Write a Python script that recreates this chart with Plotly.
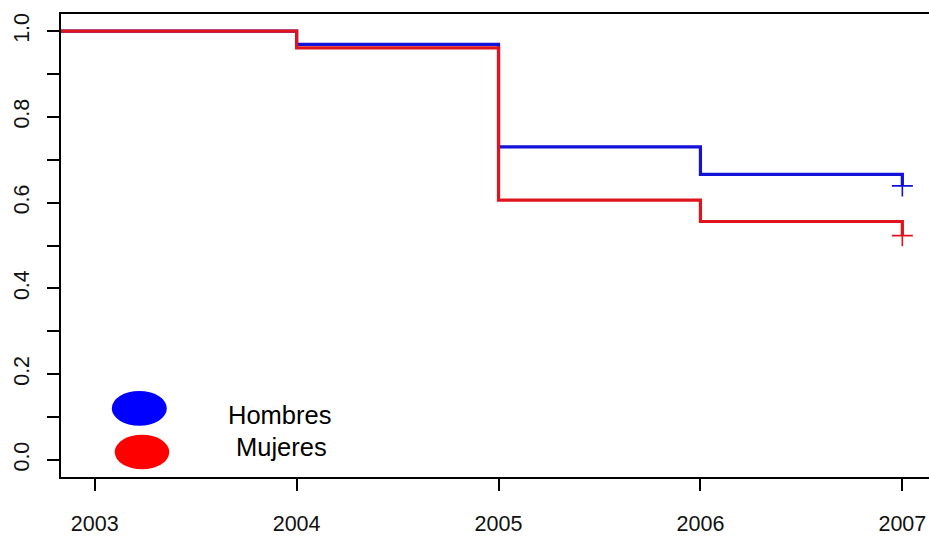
import plotly.graph_objects as go

# Data (Kaplan-Meier style step curves)
times = [2002.833, 2004, 2005, 2006, 2007]
hombres = [1.0, 0.969, 0.730, 0.666, 0.639]
mujeres = [1.0, 0.961, 0.606, 0.556, 0.523]
censor_time = [2007]
hombres_censor = [0.639]
mujeres_censor = [0.523]

x_ticks = [2003, 2004, 2005, 2006, 2007]
y_ticks = [0.0, 0.2, 0.4, 0.6, 0.8, 1.0]
y_ticktext = ["0.0", "0.2", "0.4", "0.6", "0.8", "1.0"]
legend_labels = ["Hombres", "Mujeres"]

BLUE = "#1212d8"
RED = "#e0141c"
FONT = "Liberation Sans, Arial, sans-serif"

W, H = 929, 536
L, R, T, B = 61, 0, 14, 55
PW, PH = W - L - R, H - T - B


def px(x):
    return (x - L) / PW


def py(y):
    return (H - B - y) / PH


fig = go.Figure()
fig.add_trace(go.Scatter(x=times, y=hombres, mode="lines", line=dict(color=BLUE, width=3.2, shape="hv"),
                         showlegend=False, hoverinfo="skip"))
fig.add_trace(go.Scatter(x=times, y=mujeres, mode="lines", line=dict(color=RED, width=3.2, shape="hv"),
                         showlegend=False, hoverinfo="skip"))
fig.add_trace(go.Scatter(x=censor_time, y=hombres_censor, mode="markers",
                         marker=dict(symbol="cross-thin", size=15, line=dict(color=BLUE, width=1.6)),
                         showlegend=False, hoverinfo="skip"))
fig.add_trace(go.Scatter(x=censor_time, y=mujeres_censor, mode="markers",
                         marker=dict(symbol="cross-thin", size=15, line=dict(color=RED, width=1.6)),
                         showlegend=False, hoverinfo="skip"))

# legend ellipses
shapes = [
    dict(type="circle", xref="paper", yref="paper", x0=px(111.8), x1=px(166.8), y0=py(429.3), y1=py(394.3),
         fillcolor="#0000ff", line=dict(width=0), layer="above"),
    dict(type="circle", xref="paper", yref="paper", x0=px(114.7), x1=px(169.3), y0=py(473.3), y1=py(438.3),
         fillcolor="#ff0000", line=dict(width=0), layer="above"),
]
annotations = [
    dict(text=legend_labels[0], xref="paper", yref="paper", x=px(279), y=py(418), xanchor="center",
         yanchor="middle", showarrow=False, font=dict(family=FONT, size=25.5, color="black")),
    dict(text=legend_labels[1], xref="paper", yref="paper", x=px(281), y=py(451), xanchor="center",
         yanchor="middle", showarrow=False, font=dict(family=FONT, size=25.5, color="black")),
]

fig.update_layout(
    width=W, height=H,
    margin=dict(l=L, r=R, t=T, b=B, pad=0),
    paper_bgcolor="white", plot_bgcolor="white",
    shapes=shapes, annotations=annotations,
    font=dict(family=FONT, color="black"),
)
fig.update_xaxes(
    range=[2002.833, 2007.132], tickvals=x_ticks, ticktext=[str(v) for v in x_ticks],
    showgrid=False, zeroline=False, showline=True, linecolor="black", linewidth=1.5, mirror=True,
    ticks="outside", ticklen=12, tickwidth=1.5, tickcolor="black",
    tickfont=dict(family=FONT, size=21.5, color="#111"), ticklabelstandoff=14,
)
fig.update_yaxes(
    range=[-0.04, 1.04], tickvals=y_ticks, ticktext=y_ticktext, tickangle=-90,
    showgrid=False, zeroline=False, showline=True, linecolor="black", linewidth=1.5, mirror=False,
    ticks="outside", ticklen=12, tickwidth=1.5, tickcolor="black",
    minor=dict(dtick=0.1, tick0=0, ticks="outside", ticklen=12, tickwidth=1.5, tickcolor="black", showgrid=False),
    tickfont=dict(family=FONT, size=21.5, color="#111"), ticklabelstandoff=10,
)

fig.write_html(
    "out.html",
    config={"displayModeBar": False},
    post_script="document.body.style.margin='0';document.body.style.padding='0';"
                "document.documentElement.style.overflow='hidden';document.body.style.overflow='hidden';",
)
